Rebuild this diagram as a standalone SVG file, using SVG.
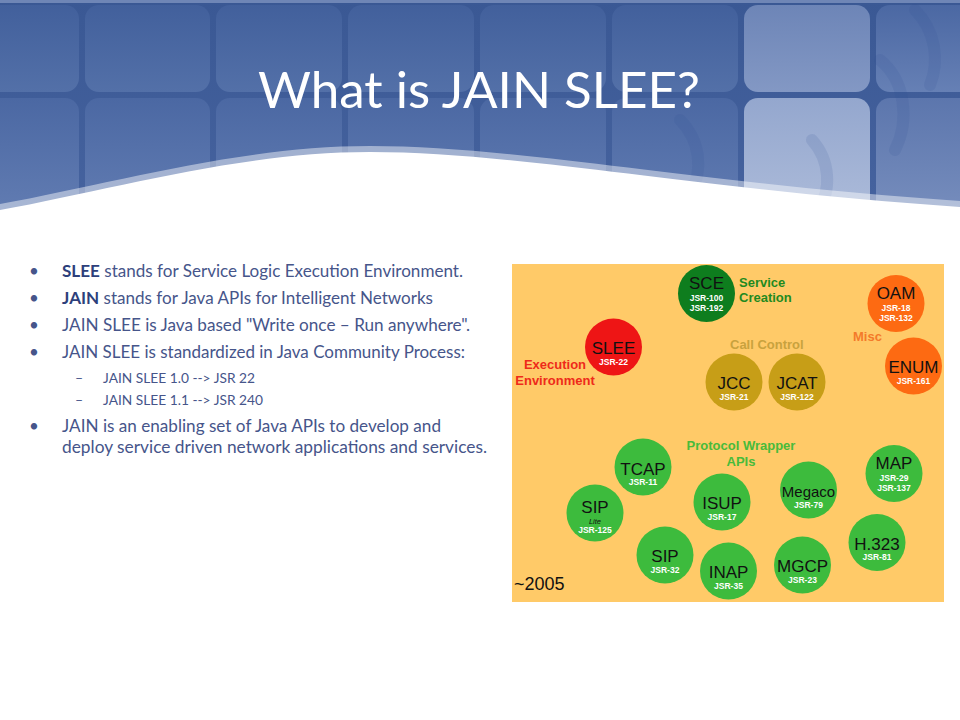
<svg xmlns="http://www.w3.org/2000/svg" width="960" height="720" viewBox="0 0 960 720">
<defs>
<linearGradient id="hdr" x1="0" y1="0" x2="0" y2="1">
<stop offset="0" stop-color="#3a5894"/>
<stop offset="1" stop-color="#46639f"/>
</linearGradient>
<linearGradient id="tileA" x1="0" y1="0" x2="0" y2="1">
<stop offset="0" stop-color="#42609c"/>
<stop offset="1" stop-color="#5370a8"/>
</linearGradient>
<linearGradient id="tileB" x1="0" y1="0" x2="0" y2="1">
<stop offset="0" stop-color="#4b68a3"/>
<stop offset="1" stop-color="#6680b5"/>
</linearGradient>
<linearGradient id="tileL1" x1="0" y1="0" x2="0" y2="1">
<stop offset="0" stop-color="#6d85b7"/>
<stop offset="1" stop-color="#8398c4"/>
</linearGradient>
<linearGradient id="tileL2" x1="0" y1="0" x2="0" y2="1">
<stop offset="0" stop-color="#94a7ce"/>
<stop offset="1" stop-color="#b1bfdc"/>
</linearGradient>
<linearGradient id="tileR" x1="0" y1="0" x2="0" y2="1">
<stop offset="0" stop-color="#5c76ad"/>
<stop offset="1" stop-color="#7c92c0"/>
</linearGradient>
</defs>
<style>
.body{font-family:Lato,"Open Sans","Liberation Sans",sans-serif;font-size:17px;fill:#46558a}
.b{font-weight:bold;fill:#2d3f7b}
.sub{font-family:Lato,"Open Sans","Liberation Sans",sans-serif;font-size:14px;fill:#46558a}
.nm{font-family:"Liberation Sans",Arial,sans-serif;font-size:17px;fill:#111;text-anchor:middle}
.js{font-family:"Liberation Sans",Arial,sans-serif;font-size:8.5px;font-weight:bold;fill:#fff;text-anchor:middle}
.lite{font-family:"Liberation Sans",Arial,sans-serif;font-size:7.5px;font-style:italic;fill:#111;text-anchor:middle}
.lbl{font-family:"Liberation Sans",Arial,sans-serif;font-size:13px;font-weight:bold}
.g{fill:#3dbb3d}
</style>
<rect width="960" height="720" fill="#ffffff"/>
<g id="header">
<rect x="0" y="0" width="960" height="215" fill="url(#hdr)"/>
<rect x="0" y="0" width="960" height="3" fill="#6f86b6"/>
<g id="tiles">
<rect x="-60" y="5" width="139" height="87" rx="14" fill="url(#tileA)"/>
<rect x="85" y="5" width="125" height="87" rx="14" fill="url(#tileA)"/>
<rect x="216" y="5" width="126" height="87" rx="14" fill="url(#tileA)"/>
<rect x="348" y="5" width="126" height="87" rx="14" fill="url(#tileA)"/>
<rect x="480" y="5" width="126" height="87" rx="14" fill="url(#tileA)"/>
<rect x="612" y="5" width="126" height="87" rx="14" fill="url(#tileA)"/>
<rect x="744" y="5" width="126" height="87" rx="14" fill="url(#tileL1)"/>
<rect x="876" y="5" width="126" height="87" rx="14" fill="url(#tileB)"/>
<rect x="-60" y="98" width="139" height="140" rx="14" fill="url(#tileB)"/>
<rect x="85" y="98" width="125" height="140" rx="14" fill="url(#tileB)"/>
<rect x="216" y="98" width="126" height="140" rx="14" fill="url(#tileB)"/>
<rect x="348" y="98" width="126" height="140" rx="14" fill="url(#tileB)"/>
<rect x="480" y="98" width="126" height="140" rx="14" fill="url(#tileB)"/>
<rect x="612" y="98" width="126" height="140" rx="14" fill="url(#tileB)"/>
<rect x="744" y="98" width="126" height="140" rx="14" fill="url(#tileL2)"/>
<rect x="876" y="98" width="126" height="140" rx="14" fill="url(#tileR)"/>
</g>
<g id="swirls" fill="none" stroke="#2f4f90" stroke-opacity="0.13" stroke-width="12" stroke-linecap="round">
<path d="M812,140 C830,160 832,190 818,210"/>
<path d="M880,60 C905,80 910,120 895,150"/>
<path d="M915,10 C935,30 940,60 930,85"/>
<path d="M680,120 C700,140 704,170 690,195"/>
</g>
<path d="M0,204 C110,184 240,146 370,146 C520,146 700,184 960,201 L960,230 L0,230 Z" fill="#ffffff" fill-opacity="0.45"/>
<path d="M0,210 C110,190 240,152 370,152 C520,152 700,190 960,207 L960,240 L0,240 Z" fill="#ffffff"/>
<text x="258" y="108" textLength="442" lengthAdjust="spacingAndGlyphs" style="font-family:Lato,'Open Sans','Liberation Sans',sans-serif;font-size:51px;fill:#ffffff">What is JAIN SLEE?</text>
</g>
<g id="bullets">
<text class="body" x="29" y="277">•</text>
<text class="body" x="29" y="304">•</text>
<text class="body" x="29" y="331">•</text>
<text class="body" x="29" y="358">•</text>
<text class="body" x="29" y="432">•</text>
<text class="sub" x="75" y="383">–</text>
<text class="sub" x="75" y="405">–</text>
<text class="body" x="62" y="277" textLength="401" lengthAdjust="spacingAndGlyphs"><tspan class="b">SLEE</tspan> stands for Service Logic Execution Environment.</text>
<text class="body" x="62" y="304" textLength="371" lengthAdjust="spacingAndGlyphs"><tspan class="b">JAIN</tspan> stands for Java APIs for Intelligent Networks</text>
<text class="body" x="62" y="331" textLength="408" lengthAdjust="spacingAndGlyphs">JAIN SLEE is Java based "Write once – Run anywhere".</text>
<text class="body" x="62" y="358" textLength="403" lengthAdjust="spacingAndGlyphs">JAIN SLEE is standardized in Java Community Process:</text>
<text class="sub" x="103" y="383" textLength="152" lengthAdjust="spacingAndGlyphs">JAIN SLEE 1.0 --&gt; JSR 22</text>
<text class="sub" x="103" y="405" textLength="160" lengthAdjust="spacingAndGlyphs">JAIN SLEE 1.1 --&gt; JSR 240</text>
<text class="body" x="62" y="432" textLength="379" lengthAdjust="spacingAndGlyphs">JAIN is an enabling set of Java APIs to develop and</text>
<text class="body" x="62" y="453" textLength="425" lengthAdjust="spacingAndGlyphs">deploy service driven network applications and services.</text>
</g>
<g id="jain-diagram">
<rect x="512" y="264" width="432" height="338" fill="#ffca68"/>
<g id="labels">
<text class="lbl" x="739" y="287" fill="#1f8a1f">Service</text>
<text class="lbl" x="739" y="302" fill="#1f8a1f">Creation</text>
<text class="lbl" x="555" y="369" fill="#ee2a1a" text-anchor="middle">Execution</text>
<text class="lbl" x="555" y="385" fill="#ee2a1a" text-anchor="middle">Environment</text>
<text class="lbl" x="730" y="349" fill="#c9a23e">Call Control</text>
<text class="lbl" x="853" y="341" fill="#f47a2a">Misc</text>
<text class="lbl" x="741" y="450" fill="#48bb3a" text-anchor="middle">Protocol Wrapper</text>
<text class="lbl" x="741" y="466" fill="#48bb3a" text-anchor="middle">APIs</text>
<text x="514" y="590" style="font-family:'Liberation Sans',Arial,sans-serif;font-size:18px;fill:#111">~2005</text>
</g>
<g id="sce"><circle cx="706.5" cy="293.5" r="28.5" fill="#0e7d1e"/><text class="nm" x="706.5" y="288.5">SCE</text><text class="js" x="706.5" y="300.5">JSR-100</text><text class="js" x="706.5" y="311">JSR-192</text></g>
<g id="slee"><circle cx="613.5" cy="347" r="28.5" fill="#ee1515"/><text class="nm" x="613.5" y="354">SLEE</text><text class="js" x="613.5" y="364.5">JSR-22</text></g>
<g id="jcc"><circle cx="734" cy="382" r="28.5" fill="#c79e17"/><text class="nm" x="734" y="389">JCC</text><text class="js" x="734" y="399.5">JSR-21</text></g>
<g id="jcat"><circle cx="797" cy="382" r="28.5" fill="#c79e17"/><text class="nm" x="797" y="389">JCAT</text><text class="js" x="797" y="399.5">JSR-122</text></g>
<g id="oam"><circle cx="896" cy="303.5" r="28.5" fill="#fd6a12"/><text class="nm" x="896" y="299">OAM</text><text class="js" x="896" y="311">JSR-18</text><text class="js" x="896" y="320.5">JSR-132</text></g>
<g id="enum"><circle cx="913.5" cy="366" r="28.5" fill="#fd6a12"/><text class="nm" x="913.5" y="373">ENUM</text><text class="js" x="913.5" y="383.5">JSR-161</text></g>
<g id="tcap"><circle class="g" cx="643" cy="467" r="28.5"/><text class="nm" x="643" y="474.5">TCAP</text><text class="js" x="643" y="485">JSR-11</text></g>
<g id="sip-lite"><circle class="g" cx="595" cy="513" r="28.5"/><text class="nm" x="595" y="513">SIP</text><text class="lite" x="595" y="524">Lite</text><text class="js" x="595" y="533">JSR-125</text></g>
<g id="sip"><circle class="g" cx="665" cy="555" r="28.5"/><text class="nm" x="665" y="562">SIP</text><text class="js" x="665" y="572.5">JSR-32</text></g>
<g id="isup"><circle class="g" cx="722" cy="502" r="28.5"/><text class="nm" x="722" y="509">ISUP</text><text class="js" x="722" y="520">JSR-17</text></g>
<g id="inap"><circle class="g" cx="728.5" cy="571" r="28.5"/><text class="nm" x="728.5" y="578">INAP</text><text class="js" x="728.5" y="588.5">JSR-35</text></g>
<g id="megaco"><circle class="g" cx="808.5" cy="490" r="28.5"/><text class="nm" x="808.5" y="497" style="font-size:15px">Megaco</text><text class="js" x="808.5" y="508">JSR-79</text></g>
<g id="map"><circle class="g" cx="894" cy="473.5" r="28.5"/><text class="nm" x="894" y="469">MAP</text><text class="js" x="894" y="481">JSR-29</text><text class="js" x="894" y="490.5">JSR-137</text></g>
<g id="h323"><circle class="g" cx="877" cy="542.5" r="28.5"/><text class="nm" x="877" y="549.5">H.323</text><text class="js" x="877" y="560">JSR-81</text></g>
<g id="mgcp"><circle class="g" cx="802.5" cy="565" r="28.5"/><text class="nm" x="802.5" y="572">MGCP</text><text class="js" x="802.5" y="582.5">JSR-23</text></g>
</g>
<g id="connectors"/>
</svg>
